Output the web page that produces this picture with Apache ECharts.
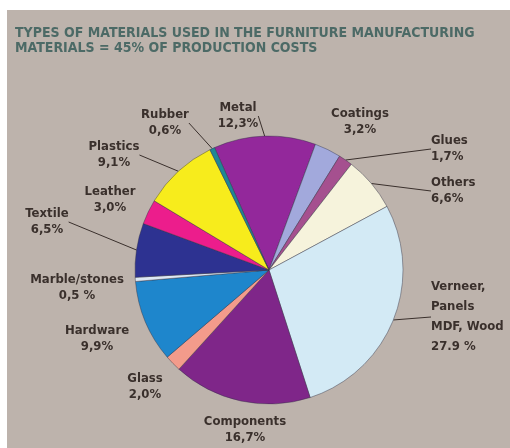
<!DOCTYPE html>
<html>
<head>
<meta charset="utf-8">
<script src="https://cdn.jsdelivr.net/npm/echarts@6/dist/echarts.min.js"></script>
<style>
  html, body { margin: 0; padding: 0; background: #ffffff; }
  #chart { width: 510px; height: 448px; }
</style>
</head>
<body>
<div id="chart"></div>
<script>
// Material groups, clockwise from the top
const categories = ['Metal', 'Coatings', 'Glues', 'Others', 'Verneer,\nPanels\nMDF, Wood', 'Components',
  'Glass', 'Hardware', 'Marble/stones', 'Textile', 'Leather', 'Plastics', 'Rubber'];
// Share of material costs, %
const shares = [12.3, 3.2, 1.7, 6.6, 27.9, 16.7, 2.0, 9.9, 0.5, 6.5, 3.0, 9.1, 0.6];
const sliceColors = ['#93289b', '#a2a9dc', '#a5508f', '#f6f3dc', '#d3eaf5', '#7f2689',
  '#f39b8b', '#1e86cc', '#dde8f3', '#2d3291', '#ec1d8c', '#f7ec1c', '#1f8696'];

const titleLines = ['TYPES OF MATERIALS USED IN THE FURNITURE MANUFACTURING',
  'MATERIALS = 45% OF PRODUCTION COSTS'];

// Where each label block sits (top of the text block) and whether it gets a leader line
const labelSpots = {
  'Metal':         { x: 238, y: 100, align: 'center', line: true },
  'Coatings':      { x: 360, y: 106, align: 'center', line: false },
  'Glues':         { x: 431, y: 133, align: 'left',   line: true },
  'Others':        { x: 431, y: 175, align: 'left',   line: true },
  'Verneer,\nPanels\nMDF, Wood': { x: 431, y: 277, align: 'left', line: true },
  'Components':    { x: 245, y: 414, align: 'center', line: false },
  'Glass':         { x: 145, y: 371, align: 'center', line: false },
  'Hardware':      { x: 97,  y: 323, align: 'center', line: false },
  'Marble/stones': { x: 77,  y: 272, align: 'center', line: false },
  'Textile':       { x: 47,  y: 206, align: 'center', line: true },
  'Leather':       { x: 110, y: 184, align: 'center', line: false },
  'Plastics':      { x: 114, y: 139, align: 'center', line: true },
  'Rubber':        { x: 165, y: 107, align: 'center', line: true }
};

const labelFont = '"DejaVu Sans Condensed", "DejaVu Sans", sans-serif';

function pctText(name, v) {
  if (name.indexOf('MDF') >= 0) return v.toFixed(1) + ' %';
  if (name === 'Marble/stones') return v.toFixed(1).replace('.', ',') + ' %';
  return v.toFixed(1).replace('.', ',') + '%';
}

const pieData = categories.map((name, i) => ({
  name: name,
  value: shares[i],
  itemStyle: { color: sliceColors[i] },
  label: { lineHeight: name.indexOf('MDF') >= 0 ? 20 : 16 },
  labelLine: { show: labelSpots[name].line }
}));

const chart = echarts.init(document.getElementById('chart'), null, { renderer: 'canvas' });
chart.setOption({
  backgroundColor: '#ffffff',
  animation: false,
  graphic: [{
    type: 'rect',
    z: -10,
    shape: { x: 7, y: 10, width: 503, height: 438 },
    style: { fill: '#bdb3ac' }
  }],
  title: {
    text: titleLines.join('\n'),
    left: 10,
    top: 21,
    textStyle: {
      fontFamily: labelFont,
      fontWeight: 'bold',
      fontSize: 14,
      lineHeight: 15,
      color: '#4c6a66'
    }
  },
  series: [{
    type: 'pie',
    center: [269, 270],
    radius: 134,
    startAngle: 114,
    clockwise: true,
    avoidLabelOverlap: false,
    itemStyle: { borderColor: 'rgba(50,50,70,0.55)', borderWidth: 0.8 },
    label: {
      show: true,
      formatter: p => p.name + '\n' + pctText(p.name, p.value),
      fontFamily: labelFont,
      fontWeight: 'bold',
      fontSize: 13,
      color: '#3a302c'
    },
    labelLine: {
      show: true,
      length: 4,
      length2: 0,
      lineStyle: { color: '#3a302c', width: 1 }
    },
    labelLayout: function (params) {
      const s = labelSpots[categories[params.dataIndex]];
      return { x: s.x, y: s.y, align: s.align, verticalAlign: 'top' };
    },
    emphasis: { disabled: true },
    data: pieData
  }]
});
</script>
</body>
</html>
